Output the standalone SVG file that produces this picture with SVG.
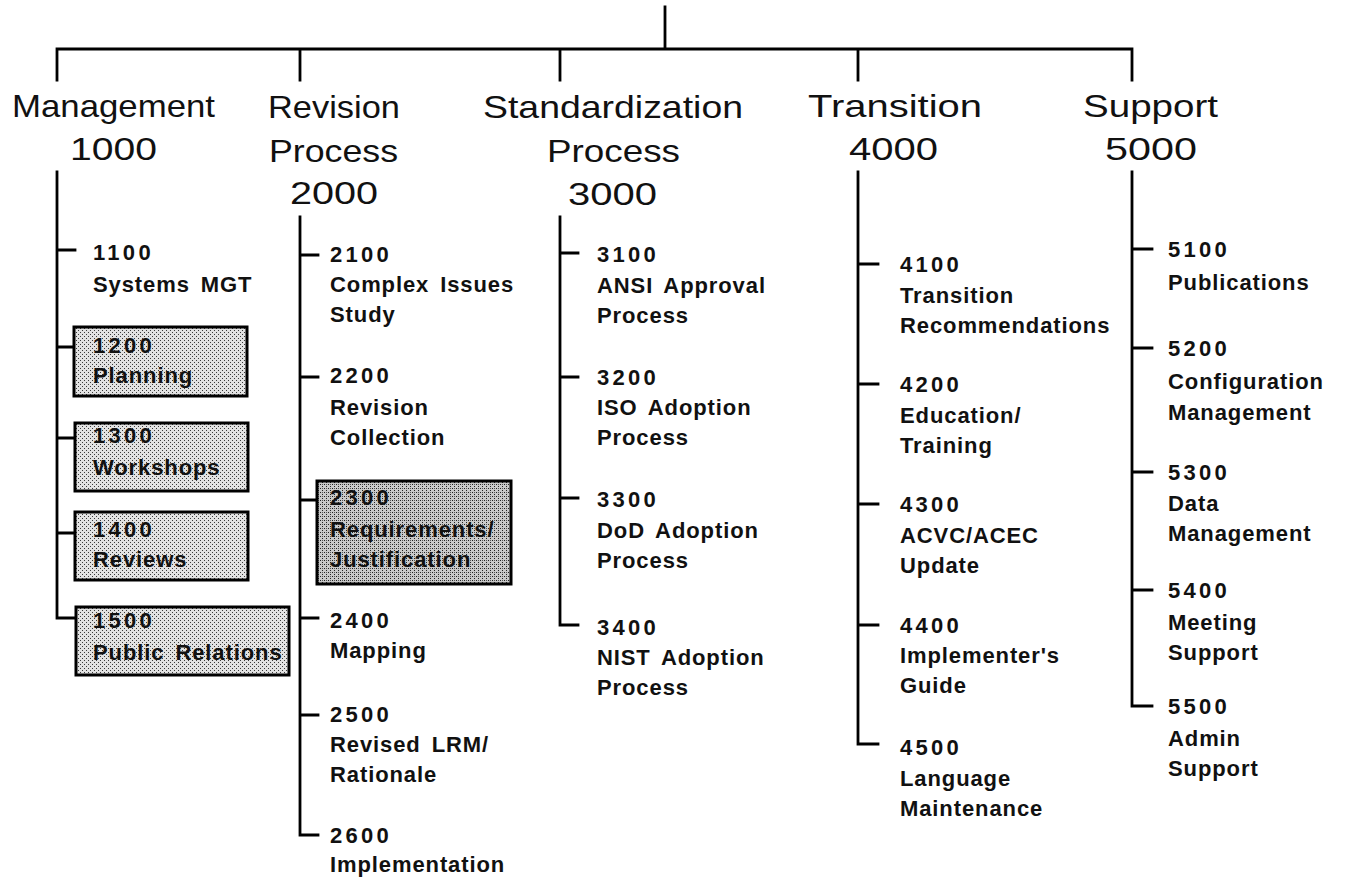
<svg xmlns="http://www.w3.org/2000/svg" width="1351" height="881" viewBox="0 0 1351 881">
<defs>
<pattern id="dots" width="4" height="4" patternUnits="userSpaceOnUse"><rect width="4" height="4" fill="#e2e2e2"/><rect x="0" y="0" width="1" height="1" fill="#3a3a3a"/><rect x="2" y="2" width="1" height="1" fill="#3a3a3a"/></pattern>
<pattern id="dots2" width="4" height="4" patternUnits="userSpaceOnUse"><rect width="4" height="4" fill="#c9c9c9"/><rect x="0" y="0" width="1" height="1" fill="#222"/><rect x="2" y="2" width="1" height="1" fill="#222"/><rect x="2" y="0" width="1" height="1" fill="#555"/></pattern>
</defs>
<style>
.ln{stroke:#000;stroke-width:2.8;fill:none;stroke-linecap:square;stroke-linejoin:miter}
.hd{font-family:"Liberation Sans",Arial,Helvetica,sans-serif;font-size:32px;fill:#111}
.t{font-family:"Liberation Sans",Arial,Helvetica,sans-serif;font-size:22px;font-weight:bold;letter-spacing:0.9px;word-spacing:4px;fill:#111}
.n{letter-spacing:3.3px}
.box{fill:url(#dots);stroke:#000;stroke-width:3}
.box2{fill:url(#dots2);stroke:#000;stroke-width:3}
</style>
<rect width="1351" height="881" fill="#fff"/>
<g id="connectors" class="ln">
<path d="M665 7V49M57 80V49H1132V80M300 49V80M560 49V80M858 49V80"/>
<path d="M57 172V618M57 250H75M57 347H74M57 438H75M57 533H75M57 618H76"/>
<path d="M300 217V835H318M300 255H318M300 377H318M300 500H317M300 618H318M300 715H318"/>
<path d="M560 217V625H578M560 253H578M560 377H578M560 498H578"/>
<path d="M858 172V744H878M858 264H878M858 384H878M858 504H878M858 625H878"/>
<path d="M1132 172V706H1152M1132 249H1152M1132 348H1152M1132 472H1152M1132 590H1152"/>
</g>
<g id="n1000"><text class="hd" x="12" y="117" textLength="203" lengthAdjust="spacingAndGlyphs">Management</text><text class="hd" x="70" y="160" textLength="87" lengthAdjust="spacingAndGlyphs">1000</text></g>
<g id="n2000"><text class="hd" x="268" y="118" textLength="132" lengthAdjust="spacingAndGlyphs">Revision</text><text class="hd" x="269" y="162" textLength="129" lengthAdjust="spacingAndGlyphs">Process</text><text class="hd" x="290" y="204" textLength="88" lengthAdjust="spacingAndGlyphs">2000</text></g>
<g id="n3000"><text class="hd" x="483" y="118" textLength="260" lengthAdjust="spacingAndGlyphs">Standardization</text><text class="hd" x="547" y="162" textLength="133" lengthAdjust="spacingAndGlyphs">Process</text><text class="hd" x="568" y="205" textLength="89" lengthAdjust="spacingAndGlyphs">3000</text></g>
<g id="n4000"><text class="hd" x="808" y="117" textLength="174" lengthAdjust="spacingAndGlyphs">Transition</text><text class="hd" x="849" y="160" textLength="89" lengthAdjust="spacingAndGlyphs">4000</text></g>
<g id="n5000"><text class="hd" x="1083" y="117" textLength="135" lengthAdjust="spacingAndGlyphs">Support</text><text class="hd" x="1105" y="160" textLength="92" lengthAdjust="spacingAndGlyphs">5000</text></g>
<g id="n1100"><text class="t n" x="93" y="260">1100</text><text class="t" x="93" y="292">Systems MGT</text></g>
<g id="n1200"><rect class="box" x="74" y="327" width="173" height="69"/><text class="t n" x="93" y="353">1200</text><text class="t" x="93" y="383">Planning</text></g>
<g id="n1300"><rect class="box" x="75" y="423" width="173" height="68"/><text class="t n" x="93" y="443">1300</text><text class="t" x="93" y="475">Workshops</text></g>
<g id="n1400"><rect class="box" x="75" y="512" width="173" height="68"/><text class="t n" x="93" y="537">1400</text><text class="t" x="93" y="567">Reviews</text></g>
<g id="n1500"><rect class="box" x="76" y="607" width="213" height="68"/><text class="t n" x="93" y="628">1500</text><text class="t" x="93" y="660">Public Relations</text></g>
<g id="n2100"><text class="t n" x="330" y="262">2100</text><text class="t" x="330" y="292">Complex Issues</text><text class="t" x="330" y="322">Study</text></g>
<g id="n2200"><text class="t n" x="330" y="383">2200</text><text class="t" x="330" y="415">Revision</text><text class="t" x="330" y="445">Collection</text></g>
<g id="n2300"><rect class="box2" x="317" y="481" width="194" height="103"/><text class="t n" x="330" y="505">2300</text><text class="t" x="330" y="537">Requirements/</text><text class="t" x="330" y="567">Justification</text></g>
<g id="n2400"><text class="t n" x="330" y="628">2400</text><text class="t" x="330" y="658">Mapping</text></g>
<g id="n2500"><text class="t n" x="330" y="722">2500</text><text class="t" x="330" y="752">Revised LRM/</text><text class="t" x="330" y="782">Rationale</text></g>
<g id="n2600"><text class="t n" x="330" y="843">2600</text><text class="t" x="330" y="872">Implementation</text></g>
<g id="n3100"><text class="t n" x="597" y="262">3100</text><text class="t" x="597" y="293">ANSI Approval</text><text class="t" x="597" y="323">Process</text></g>
<g id="n3200"><text class="t n" x="597" y="385">3200</text><text class="t" x="597" y="415">ISO Adoption</text><text class="t" x="597" y="445">Process</text></g>
<g id="n3300"><text class="t n" x="597" y="507">3300</text><text class="t" x="597" y="538">DoD Adoption</text><text class="t" x="597" y="568">Process</text></g>
<g id="n3400"><text class="t n" x="597" y="635">3400</text><text class="t" x="597" y="665">NIST Adoption</text><text class="t" x="597" y="695">Process</text></g>
<g id="n4100"><text class="t n" x="900" y="272">4100</text><text class="t" x="900" y="303">Transition</text><text class="t" x="900" y="333">Recommendations</text></g>
<g id="n4200"><text class="t n" x="900" y="392">4200</text><text class="t" x="900" y="423">Education/</text><text class="t" x="900" y="453">Training</text></g>
<g id="n4300"><text class="t n" x="900" y="512">4300</text><text class="t" x="900" y="543">ACVC/ACEC</text><text class="t" x="900" y="573">Update</text></g>
<g id="n4400"><text class="t n" x="900" y="633">4400</text><text class="t" x="900" y="663">Implementer's</text><text class="t" x="900" y="693">Guide</text></g>
<g id="n4500"><text class="t n" x="900" y="755">4500</text><text class="t" x="900" y="786">Language</text><text class="t" x="900" y="816">Maintenance</text></g>
<g id="n5100"><text class="t n" x="1168" y="257">5100</text><text class="t" x="1168" y="290">Publications</text></g>
<g id="n5200"><text class="t n" x="1168" y="356">5200</text><text class="t" x="1168" y="389">Configuration</text><text class="t" x="1168" y="420">Management</text></g>
<g id="n5300"><text class="t n" x="1168" y="480">5300</text><text class="t" x="1168" y="511">Data</text><text class="t" x="1168" y="541">Management</text></g>
<g id="n5400"><text class="t n" x="1168" y="598">5400</text><text class="t" x="1168" y="630">Meeting</text><text class="t" x="1168" y="660">Support</text></g>
<g id="n5500"><text class="t n" x="1168" y="714">5500</text><text class="t" x="1168" y="746">Admin</text><text class="t" x="1168" y="776">Support</text></g>
</svg>
